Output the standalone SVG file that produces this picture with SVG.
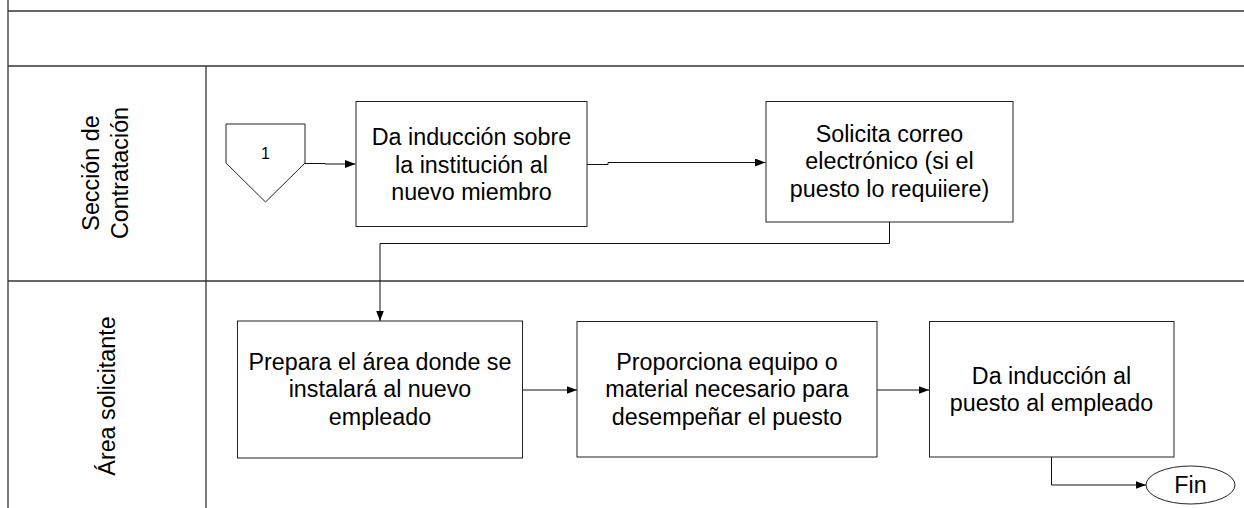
<svg xmlns="http://www.w3.org/2000/svg" width="1244" height="508" viewBox="0 0 1244 508">
<style>
.lane{stroke:#333;stroke-width:1.3;fill:none}
.box{fill:#fff;stroke:#222;stroke-width:1}
.t{font-family:"Liberation Sans",Arial,sans-serif;font-size:23.3px;fill:#000;text-anchor:middle}
.c{fill:none;stroke:#111;stroke-width:1}
</style>
<defs>
<marker id="ah" markerUnits="userSpaceOnUse" markerWidth="11" markerHeight="8" refX="10.5" refY="4" orient="auto">
<path d="M0,0 L10.5,4 L0,8 z" fill="#000"/>
</marker>
</defs>
<rect width="1244" height="508" fill="#fff"/>
<g id="lanes">
<line class="lane" x1="8" y1="0" x2="8" y2="508"/>
<line class="lane" x1="8" y1="11" x2="1244" y2="11"/>
<line class="lane" x1="8" y1="66" x2="1244" y2="66"/>
<line class="lane" x1="8" y1="281" x2="1244" y2="281"/>
<line class="lane" x1="206" y1="66" x2="206" y2="508"/>
<text class="t" transform="translate(99,173) rotate(-90)">Sección de</text>
<text class="t" transform="translate(128,173) rotate(-90)">Contratación</text>
<text class="t" transform="translate(115,396) rotate(-90)">Área solicitante</text>
</g>
<g id="connectors">
<path class="c" d="M305,163.5 H325 V164 H355.5" marker-end="url(#ah)"/>
<path class="c" d="M587,164.5 H608 V162.5 H765.5" marker-end="url(#ah)"/>
<path class="c" d="M889.5,222 V243.5 H380 V321" marker-end="url(#ah)"/>
<path class="c" d="M522.5,390 H577" marker-end="url(#ah)"/>
<path class="c" d="M877,390 H929" marker-end="url(#ah)"/>
<path class="c" d="M1051.5,457 V485 H1146" marker-end="url(#ah)"/>
</g>
<g id="n_conector">
<polygon class="box" points="226,124 305,124 305,163 265.5,202 226,163"/>
<text x="265.5" y="158.5" style="font-family:'Liberation Sans',Arial,sans-serif;font-size:16px;text-anchor:middle">1</text>
</g>
<g id="n_induccion">
<rect class="box" x="356" y="101.5" width="231" height="125"/>
<text class="t" x="471.5" y="145">Da inducción sobre</text>
<text class="t" x="471.5" y="172.5">la institución al</text>
<text class="t" x="471.5" y="200">nuevo miembro</text>
</g>
<g id="n_correo">
<rect class="box" x="766" y="101.5" width="247" height="120.5"/>
<text class="t" x="889.5" y="141.5">Solicita correo</text>
<text class="t" x="889.5" y="169">electrónico (si el</text>
<text class="t" x="889.5" y="196.5">puesto lo requiiere)</text>
</g>
<g id="n_prepara">
<rect class="box" x="237.5" y="321" width="285" height="137"/>
<text class="t" x="380" y="369.5">Prepara el área donde se</text>
<text class="t" x="380" y="397">instalará al nuevo</text>
<text class="t" x="380" y="424.5">empleado</text>
</g>
<g id="n_proporciona">
<rect class="box" x="577" y="321.5" width="300" height="135.5"/>
<text class="t" x="727" y="369.5">Proporciona equipo o</text>
<text class="t" x="727" y="397">material necesario para</text>
<text class="t" x="727" y="424.5">desempeñar el puesto</text>
</g>
<g id="n_puesto">
<rect class="box" x="929.5" y="321.5" width="244.5" height="135.5"/>
<text class="t" x="1051.5" y="383.5">Da inducción al</text>
<text class="t" x="1051.5" y="411">puesto al empleado</text>
</g>
<g id="n_fin">
<ellipse class="box" cx="1190.5" cy="485" rx="44.5" ry="19"/>
<text class="t" x="1190.5" y="493">Fin</text>
</g>
</svg>
